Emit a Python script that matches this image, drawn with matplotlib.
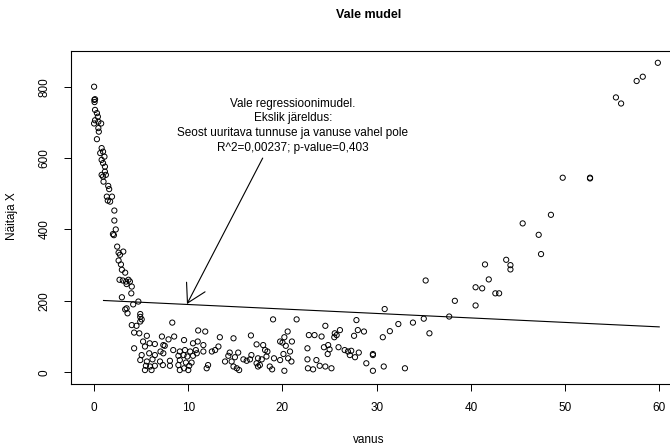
import matplotlib.pyplot as plt

plt.rcParams['font.family'] = ['Liberation Sans', 'DejaVu Sans']

# Andmed (loetud jooniselt): vanus ja näitaja X
vanus = [
    0, 0.03, 0.1, 0.05, 0.1, 0.3, 0.4, 0.1, 0.45, 0, 0.75, 0.45, 0.5, 0.3, 0.8, 0.65,
    0.95, 1.1, 0.8, 0.95, 1.15, 1.15, 0.8, 0.95, 1.25, 1.0, 1.5, 1.6, 1.35, 1.9, 1.45,
    1.7, 2.15, 2.15, 2.3, 2.0, 2.1, 2.45, 2.6, 3.1, 2.75, 2.6, 2.85, 2.95, 3.3, 2.7,
    3.05, 3.4, 3.65, 3.8, 3.45, 4.0, 3.95, 2.95, 4.7, 4.15, 3.3, 3.45, 3.55, 4.9, 4.9,
    5.05, 4.9, 4.0, 4.5, 8.3, 4.25, 4.8, 5.6, 11.05, 7.2, 7.9, 8.5, 9.55, 5.2, 5.9,
    6.45, 7.35, 7.5, 10.5, 11.0, 4.25, 5.4, 7.05, 8.4, 9.1, 9.65, 10.2, 10.8, 5.05,
    5.85, 6.45, 7.35, 8.95, 9.5, 9.9, 10.5, 4.9, 5.6, 6.2, 7.0, 8.05, 9.1, 9.75, 10.35,
    5.5, 5.95, 6.45, 7.3, 8.05, 8.95, 10.1, 5.4, 6.1, 9.1, 10.0, 9.55,
    19.0, 11.8, 13.35, 14.8, 16.65, 20.55, 20.2, 11.6, 13.2, 12.85, 12.5, 17.25, 17.95,
    18.15, 18.4, 19.75, 20.0, 20.35, 10.9, 11.6, 14.4, 15.3, 16.7, 20.1, 14.25, 14.95,
    15.85, 16.55, 17.4, 17.8, 18.3, 19.1, 19.75, 13.9, 14.6, 16.2, 17.25, 17.6, 12.1,
    11.95, 14.8, 15.15, 15.4, 17.4, 18.65, 18.9, 20.2,
    21.5, 24.55, 27.85, 28.0, 28.65, 22.8, 23.4, 24.15, 25.55, 25.75, 26.1, 25.5, 27.6,
    21.0, 22.65, 24.4, 24.85, 25.0, 25.95, 26.6, 26.95, 27.3, 28.1, 20.8, 24.8, 27.15,
    27.7, 29.6, 20.6, 20.95, 22.65, 23.6, 28.9, 22.7, 23.25, 23.95, 24.55, 25.2, 29.6,
    29.6, 30.75, 33.0, 30.65, 31.4, 32.3, 33.85, 35.0, 35.6, 30.85, 37.7, 35.2, 38.3,
    40.5, 40.5, 41.2, 42.6, 43.0, 41.5, 41.9, 43.75, 44.2, 44.2, 45.5, 47.2, 47.45,
    48.5, 49.75, 52.65, 52.65, 55.4, 55.95, 57.6, 58.25, 59.85,
]
naitaja = [
    800, 763, 765, 757, 735, 726, 716, 706, 702, 697, 697, 684, 674, 653, 628, 614,
    618, 604, 595, 586, 576, 562, 553, 548, 553, 534, 522, 513, 492, 492, 481,
    478, 453, 425, 400, 387, 384, 352, 335, 338, 329, 313, 302, 287, 279, 259,
    257, 254, 259, 254, 247, 240, 221, 210, 198, 190, 176, 179, 165, 163, 155,
    148, 142, 132, 130, 139, 111, 109, 102, 117, 100, 92, 100, 90, 86, 81,
    79, 76, 74, 81, 86, 67, 72, 58, 62, 58, 62, 58, 62, 48,
    53, 48, 53, 46, 48, 44, 46, 34, 30, 36, 30, 32, 34, 27, 27,
    18, 16, 18, 20, 18, 20, 18, 6, 6, 6, 6, 11,
    148, 114, 98, 95, 103, 114, 98, 76, 72, 62, 58, 78, 76,
    62, 58, 86, 83, 74, 53, 58, 55, 55, 48, 51, 46, 42,
    36, 36, 39, 36, 44, 39, 34, 30, 30, 32, 25, 20, 20,
    11, 16, 11, 6, 16, 16, 8, 4,
    148, 130, 146, 118, 114, 104, 104, 100, 109, 104, 118, 98, 102,
    86, 67, 70, 76, 64, 70, 62, 58, 60, 55, 58, 51, 48,
    42, 51, 39, 30, 36, 34, 25, 11, 8, 18, 16, 11, 4,
    48, 16, 11, 98, 115, 135, 139, 150, 109, 177, 156, 257, 200,
    187, 238, 235, 221, 221, 302, 260, 315, 300, 288, 417, 385, 331,
    441, 545, 543, 545, 770, 753, 816, 828, 867,
]

# Vale (lineaarne) regressioonisirge otspunktid
sirge_x = [1, 60]
sirge_y = [201, 127]

tekst = ('Vale regressioonimudel.\nEkslik järeldus:\n'
         'Seost uuritava tunnuse ja vanuse vahel pole\nR^2=0,00237; p-value=0,403')

fig = plt.figure(figsize=(6.7, 4.48), dpi=100)
ax = fig.add_axes([0.1067, 0.1429, 0.911, 0.744])

ax.scatter(vanus, naitaja, s=14, facecolors='none', edgecolors='black', linewidths=0.7)
ax.plot(sirge_x, sirge_y, color='black', linewidth=0.8)

ax.annotate('', xy=(9.86, 191), xytext=(17.9, 600),
            arrowprops=dict(arrowstyle='->, head_length=1.3, head_width=0.75',
                            color='black', lw=0.8, shrinkA=0, shrinkB=0))
ax.text(21.1, 691, tekst, ha='center', va='center', fontsize=8.5, linespacing=1.3)

ax.set_xlim(-2.4, 62.4)
ax.set_ylim(-33, 901)
ax.set_xticks([0, 10, 20, 30, 40, 50, 60])
ax.set_yticks([0, 200, 400, 600, 800])
ax.set_yticklabels(['0', '200', '400', '600', '800'], rotation=90, va='center')
ax.tick_params(direction='out', length=5, width=0.7, labelsize=8.5)
ax.tick_params(axis='y', pad=10)
ax.tick_params(axis='x', pad=8)
for s in ax.spines.values():
    s.set_linewidth(0.8)

# Telgede nimed ja pealkiri
fig.text(369 / 670, 1 - 440 / 448, 'vanus', ha='center', va='center', fontsize=8.5)
fig.text(12 / 670, 1 - 216 / 448, 'Näitaja X', ha='center', va='center',
         rotation=90, fontsize=8.5)
fig.text(369 / 670, 1 - 15 / 448, 'Vale mudel', ha='center', va='center',
         fontsize=9, fontweight='bold')

fig.savefig('out.png', dpi=100)
